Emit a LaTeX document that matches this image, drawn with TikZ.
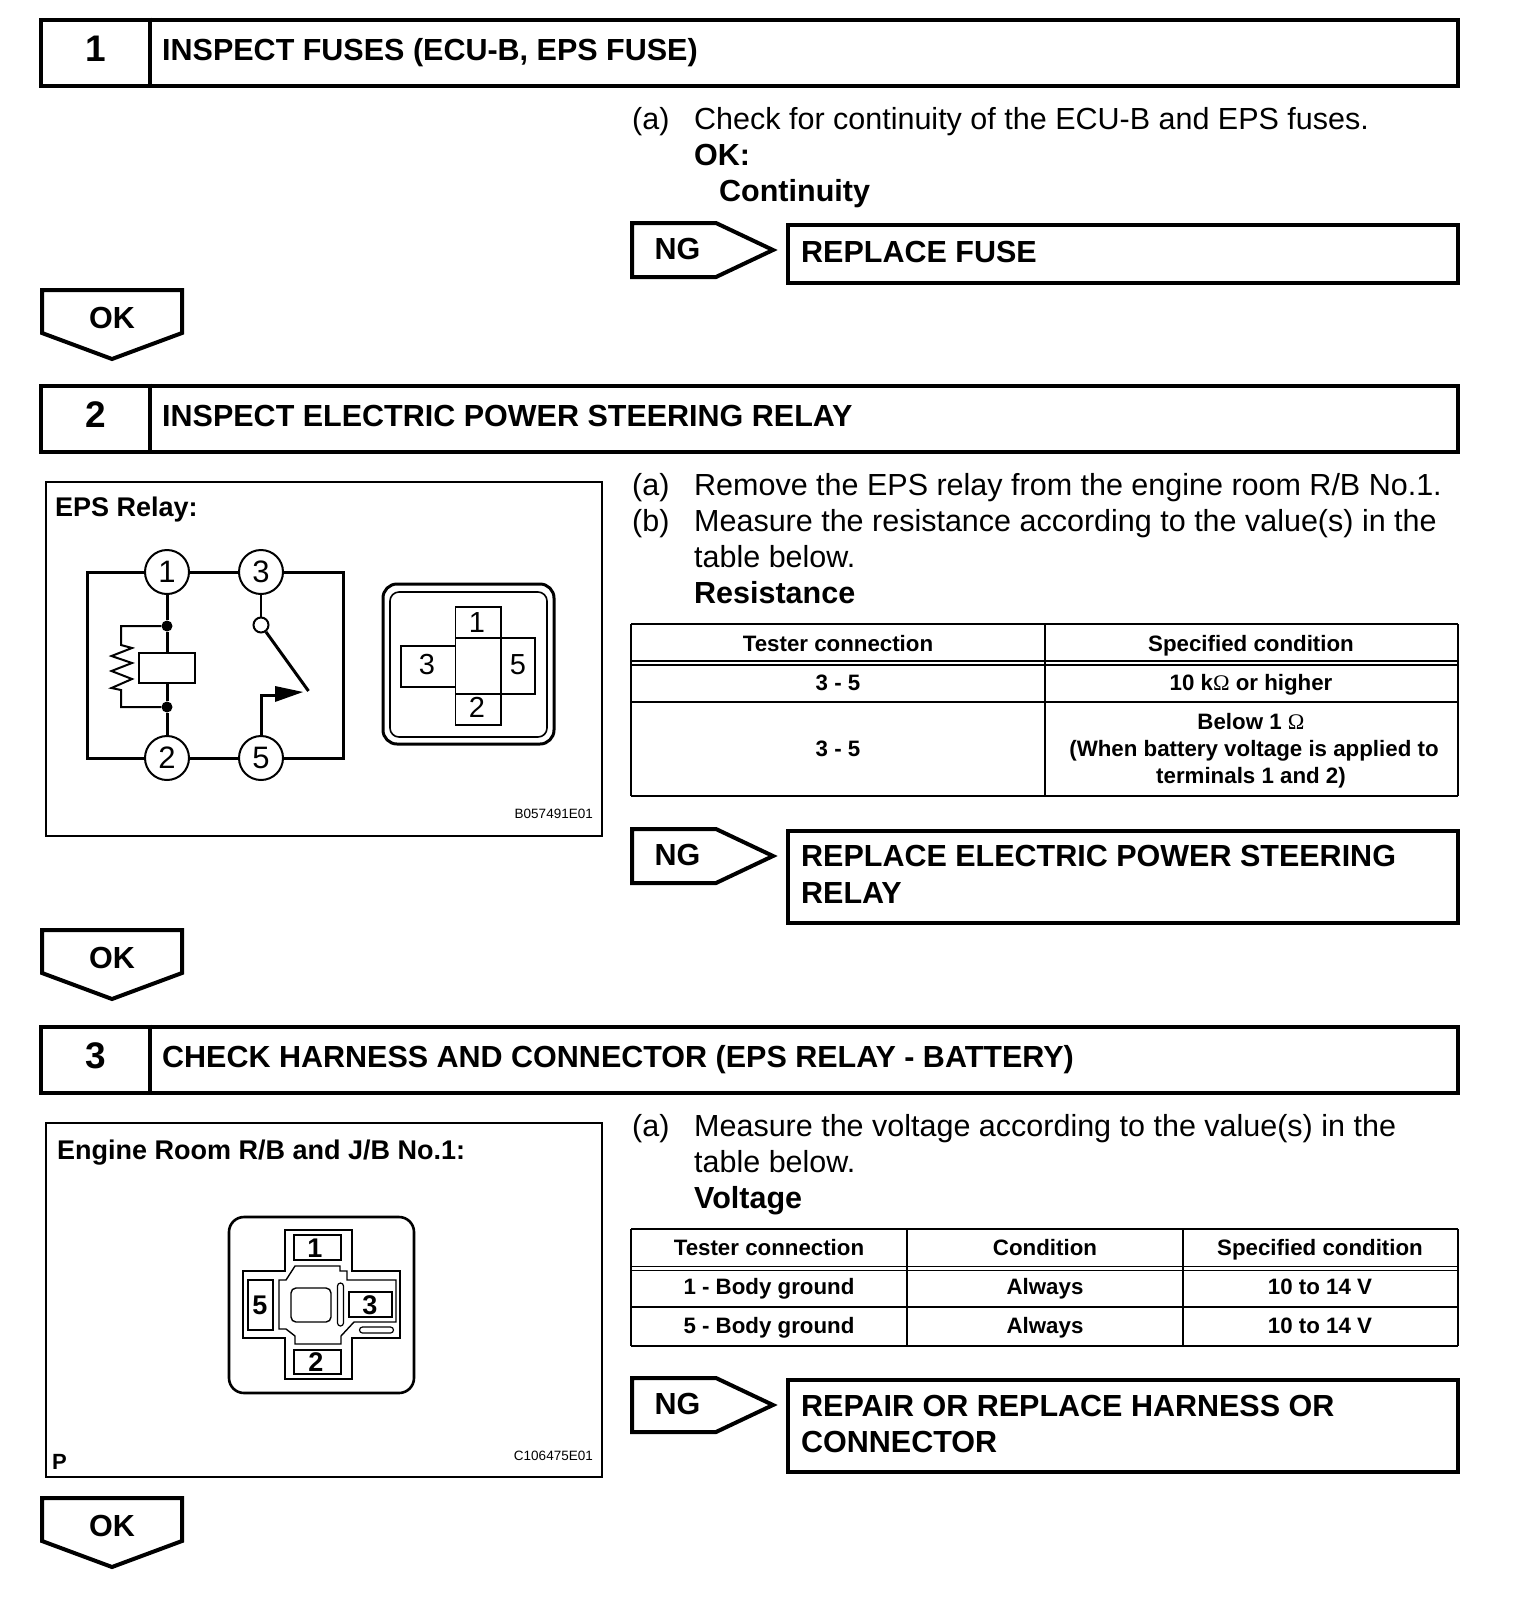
\documentclass[tikz,border=0pt]{standalone}
\usepackage{fontspec}
\setmainfont{Liberation Sans}
\usetikzlibrary{arrows.meta}
\newcommand{\fs}[1]{\fontsize{#1}{#1}\selectfont}
\newcommand{\hdr}[4]{%
 \node[hbox,minimum width=1417pt,minimum height=66pt,anchor=north west] (hb#1) at (39,#2) {};
 \draw[thickline] (150,#2) -- (150,#2+66);
 \node[numtxt] (hn#1) at (96,#2+31) {#1};
 \node[bigb] (ht#1) at (162,#2+43) {#3};
}
\newcommand{\okarrow}[2]{%
 \draw[thickline,line join=miter,fill=white] (42,#2) -- (182,#2) -- (182,#2+43) -- (112,#2+69) -- (42,#2+43) -- cycle;
 \node[bigb,anchor=center] (ok#1) at (112,#2+28) {OK};
}
\newcommand{\ngarrow}[2]{%
 \draw[thickline,line join=miter] (632,#2) -- (716,#2) -- (773,#2+27) -- (716,#2+54) -- (632,#2+54) -- cycle;
 \node[bigb,anchor=center] (ng#1) at (677.5,#2+26) {NG};
}
\tikzset{
 thickline/.style={line width=4pt},
 hbox/.style={draw,line width=4pt,inner sep=0pt},
 numtxt/.style={font=\fs{37}\bfseries,inner sep=0pt},
 bigb/.style={font=\fs{30.5}\bfseries,inner sep=0pt,anchor=base west},
 body/.style={font=\fs{30.5},inner sep=0pt,anchor=base west},
 bodyb/.style={font=\fs{30.5}\bfseries,inner sep=0pt,anchor=base west},
 cell/.style={font=\fs{22.3}\bfseries,inner sep=0pt,anchor=base},
 panel/.style={draw,line width=2.4pt,inner sep=0pt},
 paneltitle/.style={font=\fs{27}\bfseries,inner sep=0pt,anchor=base west},
 code/.style={font=\fs{13.5},inner sep=0pt,anchor=base east},
 term/.style={circle,draw,line width=2pt,fill=white,minimum size=44pt,inner sep=0pt,font=\fs{31}},
 wire/.style={line width=3pt},
 thin1/.style={line width=2pt},
 plabel/.style={font=\fs{29},inner sep=0pt},
 tlabel/.style={font=\fs{27}\bfseries,inner sep=0pt},
 tline/.style={line width=1.8pt},
 jdot/.style={circle,fill,minimum size=11pt,inner sep=0pt},
}
\begin{document}
\begin{tikzpicture}[x=1pt,y=-1pt]
\useasboundingbox (0,0) rectangle (1536,1618);
% headers
\hdr{1}{17.5}{INSPECT FUSES (ECU-B, EPS FUSE)}{}
\hdr{2}{383.5}{INSPECT ELECTRIC POWER STEERING RELAY}{}
\hdr{3}{1024.5}{CHECK HARNESS AND CONNECTOR (EPS RELAY - BATTERY)}{}
% section 1
\node[body] (a1) at (632,129) {(a)};
\node[body] (a1t) at (694,129) {Check for continuity of the ECU-B and EPS fuses.};
\node[bodyb] (ok1t) at (694,165) {OK:};
\node[bodyb] (cont) at (719,201) {Continuity};
\ngarrow{1}{223}
\node[hbox,minimum width=670pt,minimum height=58pt,anchor=north west] (f1) at (786,223) {};
\node[bigb] (f1t) at (801,262) {REPLACE FUSE};
\okarrow{1}{290}
% section 2
\node[body] (a2) at (632,495) {(a)};
\node[body] (a2t) at (694,495) {Remove the EPS relay from the engine room R/B No.1.};
\node[body] (b2) at (632,531) {(b)};
\node[body] (b2t) at (694,531) {Measure the resistance according to the value(s) in the};
\node[body] (b2u) at (694,567) {table below.};
\node[bodyb] (res) at (694,603) {Resistance};
% table 1
\draw[tline] (631,624) -- (1458,624) (631,796) -- (1458,796) (631,702) -- (1458,702)
  (631,661) -- (1458,661) (631,665) -- (1458,665)
  (631,624) -- (631,796) (1045,624) -- (1045,796) (1458,624) -- (1458,796);
\node[cell] (t1a) at (838,651) {Tester connection};
\node[cell] (t1b) at (1251,651) {Specified condition};
\node[cell] (t1c) at (838,690) {3 - 5};
\node[cell] (t1d) at (1251,690) {10 k{\mdseries\fontspec{Liberation Serif}Ω} or higher};
\node[cell] (t1e) at (838,756) {3 - 5};
\node[cell] (t1f) at (1251,729) {Below 1 {\mdseries\fontspec{Liberation Serif}Ω}};
\node[cell] (t1g) at (1254,756) {(When battery voltage is applied to};
\node[cell] (t1h) at (1251,783) {terminals 1 and 2)};
\ngarrow{2}{829}
\node[hbox,minimum width=670pt,minimum height=92pt,anchor=north west] (f2) at (786,829) {};
\node[bigb] (f2t) at (801,866) {REPLACE ELECTRIC POWER STEERING};
\node[bigb] (f2u) at (801,903) {RELAY};
\okarrow{2}{930}
% EPS relay panel
\node[panel,minimum width=556pt,minimum height=354pt,anchor=north west] (p2) at (44.5,481) {};
\node[paneltitle] (p2t) at (55,516) {EPS Relay:};
\node[code] (p2c) at (593,818) {B057491E01};
\node[term] (c1) at (167,572) {1};
\node[term] (c3) at (261,572) {3};
\node[term] (c2) at (167,758) {2};
\node[term] (c5) at (261,758) {5};
\coordinate (tl) at (87,572); \coordinate (tr) at (343,572);
\coordinate (bl) at (87,758); \coordinate (br) at (343,758);
\draw[wire] (c1) -- (tl) -- (bl) -- (c2);
\draw[wire] (c1) -- (c3);
\draw[wire] (c3) -- (tr) -- (br) -- (c5);
\draw[wire] (c2) -- (c5);
\node[draw,line width=2pt,minimum width=56pt,minimum height=30pt,inner sep=0pt] (coil) at (167,668) {};
\node[jdot] (d1) at (167,626) {};
\node[jdot] (d2) at (167,707) {};
\draw[wire] (c1) -- (d1) -- (coil);
\draw[wire] (c2) -- (d2) -- (coil);
\draw[thin1,line join=miter] (d1) -- (121,626) -- (121,645) -- (132,648) -- (111.5,656) -- (132,663) -- (111.5,671) -- (132,679) -- (111.5,688) -- (121,690) -- (121,707) -- (d2);
\node[circle,draw,line width=2pt,minimum size=15pt,inner sep=0pt] (sw) at (261,625) {};
\draw[thin1] (c3) -- (sw);
\coordinate (armend) at (308.5,691);
\draw[wire] (sw) -- (armend);
\coordinate (bend) at (261,695);
\coordinate (hd) at (277,695);
\draw[wire] (c5) -- (bend) -- (hd);
\fill (275,686) -- (303,692) -- (275,702) -- cycle;
% relay connector
\draw[line width=3pt,rounded corners=14pt] (383,584) rectangle (554,744);
\draw[line width=1.6pt,rounded corners=9pt] (390,592) rectangle (547,737);
\draw[line width=1.6pt] (455.5,638) rectangle (501,694)
  (455.5,607) rectangle (501,638) (455.5,694) rectangle (501,725)
  (455.5,646) -- (401,646) -- (401,687) -- (455.5,687)
  (501,638) -- (535,638) -- (535,694) -- (501,694);
\node[plabel] (r1) at (477,623) {1};
\node[plabel] (r3) at (427,665) {3};
\node[plabel] (r5) at (518,665) {5};
\node[plabel] (r2) at (477,707) {2};
% section 3
\node[body] (a3) at (632,1136) {(a)};
\node[body] (a3t) at (694,1136) {Measure the voltage according to the value(s) in the};
\node[body] (a3u) at (694,1172) {table below.};
\node[bodyb] (volt) at (694,1208) {Voltage};
% table 2
\draw[tline] (631,1229) -- (1458,1229) (631,1346) -- (1458,1346) (631,1307) -- (1458,1307)
  (631,1266.5) -- (1458,1266.5) (631,1270.5) -- (1458,1270.5)
  (631,1229) -- (631,1346) (907,1229) -- (907,1346) (1183,1229) -- (1183,1346) (1458,1229) -- (1458,1346);
\node[cell] (t2a) at (769,1255) {Tester connection};
\node[cell] (t2b) at (1045,1255) {Condition};
\node[cell] (t2c) at (1320,1255) {Specified condition};
\node[cell] (t2d) at (769,1294) {1 - Body ground};
\node[cell] (t2e) at (1045,1294) {Always};
\node[cell] (t2f) at (1320,1294) {10 to 14 V};
\node[cell] (t2g) at (769,1333) {5 - Body ground};
\node[cell] (t2h) at (1045,1333) {Always};
\node[cell] (t2i) at (1320,1333) {10 to 14 V};
\ngarrow{3}{1378}
\node[hbox,minimum width=670pt,minimum height=92pt,anchor=north west] (f3) at (786,1378) {};
\node[bigb] (f3t) at (801,1416) {REPAIR OR REPLACE HARNESS OR};
\node[bigb] (f3u) at (801,1452) {CONNECTOR};
\okarrow{3}{1498}
% Engine room panel
\node[panel,minimum width=556pt,minimum height=354pt,anchor=north west] (p3) at (44.5,1122) {};
\node[paneltitle] (p3t) at (57,1159) {Engine Room R/B and J/B No.1:};
\node[paneltitle,font=\fs{22}\bfseries] (p3p) at (52,1469) {P};
\node[code] (p3c) at (593,1460) {C106475E01};
\draw[line width=2.6pt,rounded corners=15pt] (229,1217) rectangle (414,1393);
\draw[line width=2.2pt] (285,1230) -- (352.3,1230) -- (352.3,1270.7) -- (400,1270.7) -- (400,1338) -- (352.3,1338) -- (352.3,1379) -- (285,1379) -- (285,1338) -- (242.7,1338) -- (242.7,1270.7) -- (285,1270.7) -- cycle;
\draw[line width=2.2pt] (294,1235) rectangle (340.7,1260)
  (294,1350) rectangle (340.7,1374)
  (248,1280) rectangle (273,1330)
  (348.7,1291.7) rectangle (391.7,1317);
\draw[line width=1.4pt] (279,1280) -- (286,1280) -- (295,1266) -- (340,1266) -- (340,1271) -- (347,1271) -- (347,1280) -- (396,1280) -- (396,1322) -- (354,1322) -- (341,1336) -- (341,1344) -- (295,1344) -- (295,1336) -- (286,1329) -- (279,1329) -- cycle;
\draw[line width=1.4pt,rounded corners=5pt] (291,1288) rectangle (331,1322);
\draw[line width=1.2pt,rounded corners=3pt] (337.5,1283) rectangle (343.5,1326);
\draw[line width=1.2pt,rounded corners=3pt] (359.5,1327) rectangle (393.5,1333);
\node[tlabel] (e1) at (315,1248) {1};
\node[tlabel] (e2) at (316,1362) {2};
\node[tlabel] (e5) at (260,1305) {5};
\node[tlabel] (e3) at (370,1305) {3};
\end{tikzpicture}
\end{document}
